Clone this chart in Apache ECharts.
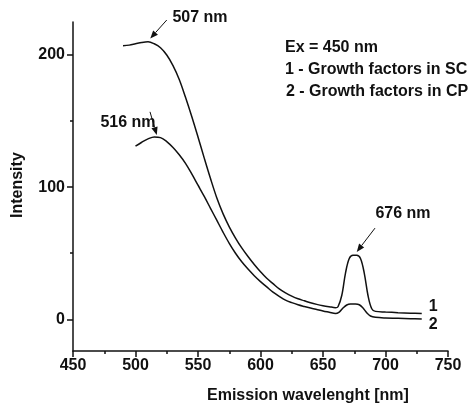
<!DOCTYPE html>
<html><head><meta charset="utf-8">
<script src="https://cdn.jsdelivr.net/npm/echarts@6/dist/echarts.min.js"></script>
<style>html,body{margin:0;padding:0;background:#fff}#c{width:469px;height:408px}</style>
</head><body><div id="c"></div>
<script>
// Emission wavelength (nm) and intensity for curve 1 (SC)
const x1 = [490,495,500,505,510,515,520,525,530,535,540,545,550,555,560,565,570,575,580,585,590,595,600,605,610,615,620,625,630,635,640,645,650,655,660,662,665,668,671,674,677,680,683,686,689,692,700,710,720,729];
const y1 = [207,207.5,208.5,209.5,210,208.5,205.5,200,192,181.5,168,153.5,138,122,106.5,92,80,70,61.5,54,47.5,41.5,36,31,27,23,20,17.5,15.5,14,12.5,11.3,10.3,9.5,8.8,9.5,18,35,46,48.5,48.5,46,35,18,8,6,5.5,5,4.6,4.3];
// curve 2 (CP)
const x2 = [500,505,510,515,520,525,530,535,540,545,550,555,560,565,570,575,580,585,590,595,600,605,610,615,620,625,630,635,640,645,650,655,660,663,666,669,672,676,679,682,685,688,692,700,710,720,729];
const y2 = [131,134,136.5,138,137.5,134.5,130,124.5,118,110,101.5,93,84,75,66,57.5,50,43.5,38,33,28.5,24.5,20.5,17.3,14.5,12.6,11,9.7,8.5,7.4,6.3,5.3,4.3,5.5,8.5,10.8,11.5,11.5,11,8.5,5,2.5,1.5,1,0.8,0.5,0.3];
const xTicks = [450,500,550,600,650,700,750];
const yLabelTicks = [0,100,200];
const yMinorTicks = [50,150];
const peakLabels = ['507 nm','516 nm','676 nm'];
const legendLines = ['Ex = 450 nm','1 - Growth factors in SC','2 - Growth factors in CP'];
const curveNames = ['1','2'];

const font = '"Liberation Sans", Arial, sans-serif';
const zip = (a,b)=>a.map((v,i)=>[v,b[i]]);
const chart = echarts.init(document.getElementById('c'));
const axisCommon = {min:-24, max:225, type:'value', splitLine:{show:false}};
const lineStyleBlack = {color:'#111', width:1.5};
chart.setOption({
  animation:false,
  backgroundColor:'#fff',
  grid:{left:73, right:21, top:22, bottom:57},
  xAxis:{type:'value', min:xTicks[0], max:xTicks[xTicks.length-1], interval:50,
    splitLine:{show:false},
    axisLine:{onZero:false, lineStyle:{color:'#111', width:1.5}},
    axisTick:{length:6, lineStyle:{color:'#111', width:1.5}},
    minorTick:{show:true, splitNumber:2, length:3, lineStyle:{color:'#111', width:1.5}},
    axisLabel:{color:'#111', fontFamily:font, fontWeight:'bold', fontSize:16, margin:7}},
  yAxis:[
    Object.assign({}, axisCommon, {
      axisLine:{show:true, lineStyle:{color:'#111', width:1.5}},
      axisTick:{show:true, length:6, customValues:yLabelTicks, lineStyle:{color:'#111', width:1.5}},
      axisLabel:{customValues:yLabelTicks, color:'#111', fontFamily:font, fontWeight:'bold', fontSize:16, margin:8}}),
    Object.assign({}, axisCommon, {position:'left',
      axisLine:{show:false},
      axisTick:{show:true, length:3, customValues:yMinorTicks, lineStyle:{color:'#111', width:1.5}},
      axisLabel:{show:false}})
  ],
  series:[
    {type:'line', data:zip(x1,y1), smooth:0.35, symbol:'none', lineStyle:lineStyleBlack,
      endLabel:{show:true, formatter:curveNames[0], color:'#111', fontFamily:font, fontWeight:'bold', fontSize:16, offset:[-1,-7]}},
    {type:'line', data:zip(x2,y2), smooth:0.35, symbol:'none', lineStyle:lineStyleBlack,
      endLabel:{show:true, formatter:curveNames[1], color:'#111', fontFamily:font, fontWeight:'bold', fontSize:16, offset:[-1,6]}}
  ]
});

// peak annotations placed in data coordinates
const annotations = [
  {text:peakLabels[0], at:[551.6,228.5], from:[525,226.5], to:[511.8,212.5]},
  {text:peakLabels[1], at:[494,148.5], from:[511.6,157], to:[517,139.5]},
  {text:peakLabels[2], at:[714,80], from:[691.6,69], to:[677,51]}
];
const g = [];
const px = v => chart.convertToPixel({gridIndex:0}, v);
annotations.forEach(a => {
  const c = px(a.at), p1 = px(a.from), p2 = px(a.to);
  g.push({type:'text', x:c[0], y:c[1], style:{text:a.text, fill:'#111', font:'bold 16px '+font, align:'center', verticalAlign:'middle'}});
  const ang = Math.atan2(p2[1]-p1[1], p2[0]-p1[0]);
  const L = 8, W = 3.2;
  const bx = p2[0]-L*Math.cos(ang), by = p2[1]-L*Math.sin(ang);
  g.push({type:'line', shape:{x1:p1[0], y1:p1[1], x2:bx, y2:by}, style:{stroke:'#111', lineWidth:1}});
  g.push({type:'polygon', shape:{points:[[p2[0],p2[1]],[bx-W*Math.sin(ang), by+W*Math.cos(ang)],[bx+W*Math.sin(ang), by-W*Math.cos(ang)]]}, style:{fill:'#111'}});
});
g.push({type:'text', left:285, top:40, style:{text:legendLines[0], fill:'#111', font:'bold 16px '+font}});
g.push({type:'text', left:285, top:62, style:{text:legendLines[1], fill:'#111', font:'bold 16px '+font}});
g.push({type:'text', left:286, top:84, style:{text:legendLines[2], fill:'#111', font:'bold 16px '+font}});
g.push({type:'text', left:207, top:388, style:{text:'Emission wavelenght [nm]', fill:'#111', font:'bold 16px '+font}});
g.push({type:'text', x:10, y:218, rotation:Math.PI/2, style:{text:'Intensity', fill:'#111', font:'bold 16px '+font}});
chart.setOption({graphic:g});
</script></body></html>
